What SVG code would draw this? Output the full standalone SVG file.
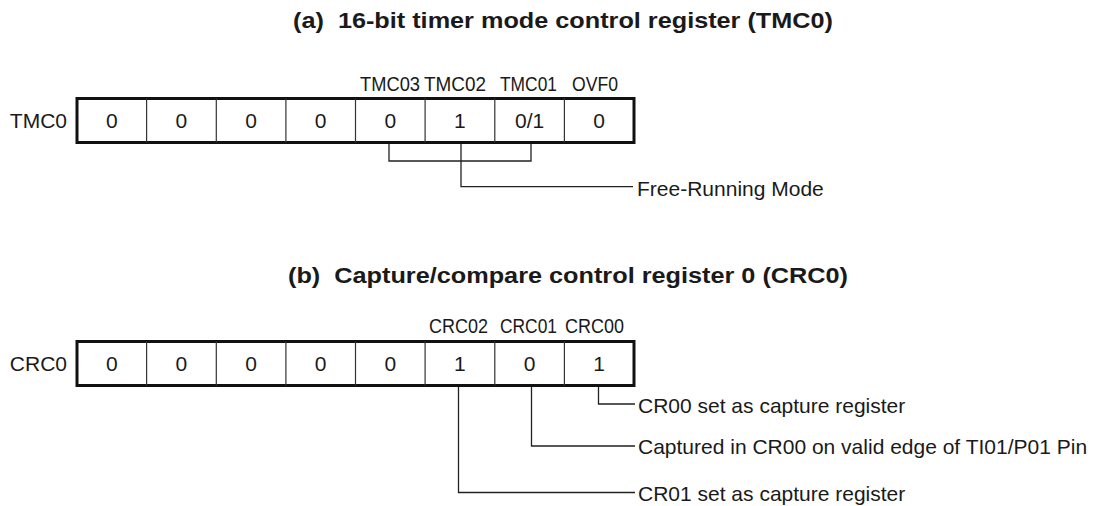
<svg xmlns="http://www.w3.org/2000/svg" width="1094" height="506" viewBox="0 0 1094 506">
<style>
text{font-family:"Liberation Sans",Arial,sans-serif;fill:#1a1a1a;font-size:21px}
.t{font-weight:bold;font-size:22px;white-space:pre}
.c{text-anchor:middle}
.e{text-anchor:end}
.box{fill:#fff;stroke:#111;stroke-width:3}
.div{stroke:#333;stroke-width:1.2}
.ln{fill:none;stroke:#222;stroke-width:1.3}
</style>
<rect width="1094" height="506" fill="#fff"/>
<text class="t" xml:space="preserve" x="293" y="28" textLength="540" lengthAdjust="spacingAndGlyphs">(a)  16-bit timer mode control register (TMC0)</text>
<text class="t" xml:space="preserve" x="288" y="283" textLength="560" lengthAdjust="spacingAndGlyphs">(b)  Capture/compare control register 0 (CRC0)</text>
<g id="tmc0">
<text class="e" x="67" y="128">TMC0</text>
<rect class="box" x="77" y="98.5" width="557" height="44"/>
<path class="div" d="M146.6 98.5V142.5M216.3 98.5V142.5M285.9 98.5V142.5M355.5 98.5V142.5M425.1 98.5V142.5M494.8 98.5V142.5M564.4 98.5V142.5"/>
<text class="c" x="111.8" y="128">0</text>
<text class="c" x="181.4" y="128">0</text>
<text class="c" x="251.1" y="128">0</text>
<text class="c" x="320.7" y="128">0</text>
<text class="c" x="390.3" y="128">0</text>
<text class="c" x="459.9" y="128">1</text>
<text class="c" x="529.6" y="128">0/1</text>
<text class="c" x="599.2" y="128">0</text>
<text x="360" y="91" textLength="60" lengthAdjust="spacingAndGlyphs">TMC03</text>
<text x="424" y="91" textLength="62" lengthAdjust="spacingAndGlyphs">TMC02</text>
<text x="500" y="91" textLength="57" lengthAdjust="spacingAndGlyphs">TMC01</text>
<text x="572" y="91" textLength="46" lengthAdjust="spacingAndGlyphs">OVF0</text>
</g>
<g id="crc0">
<text class="e" x="67" y="371">CRC0</text>
<rect class="box" x="77" y="341.5" width="557" height="44"/>
<path class="div" d="M146.6 341.5V385.5M216.3 341.5V385.5M285.9 341.5V385.5M355.5 341.5V385.5M425.1 341.5V385.5M494.8 341.5V385.5M564.4 341.5V385.5"/>
<text class="c" x="111.8" y="371">0</text>
<text class="c" x="181.4" y="371">0</text>
<text class="c" x="251.1" y="371">0</text>
<text class="c" x="320.7" y="371">0</text>
<text class="c" x="390.3" y="371">0</text>
<text class="c" x="459.9" y="371">1</text>
<text class="c" x="529.6" y="371">0</text>
<text class="c" x="599.2" y="371">1</text>
<text x="429" y="333" textLength="59" lengthAdjust="spacingAndGlyphs">CRC02</text>
<text x="500" y="333" textLength="57" lengthAdjust="spacingAndGlyphs">CRC01</text>
<text x="565" y="333" textLength="59" lengthAdjust="spacingAndGlyphs">CRC00</text>
</g>
<g id="connectors">
<path class="ln" d="M389 144V161H531V144"/>
<path class="ln" d="M461 144V186.7H633"/>
<path class="ln" d="M598.5 387V404H635"/>
<path class="ln" d="M531.5 387V446H635"/>
<path class="ln" d="M458.5 387V492.5H635"/>
</g>
<g id="labels">
<text x="637" y="195.5">Free-Running Mode</text>
<text x="638" y="412.5">CR00 set as capture register</text>
<text x="638" y="454">Captured in CR00 on valid edge of TI01/P01 Pin</text>
<text x="638" y="500.5">CR01 set as capture register</text>
</g>
</svg>
